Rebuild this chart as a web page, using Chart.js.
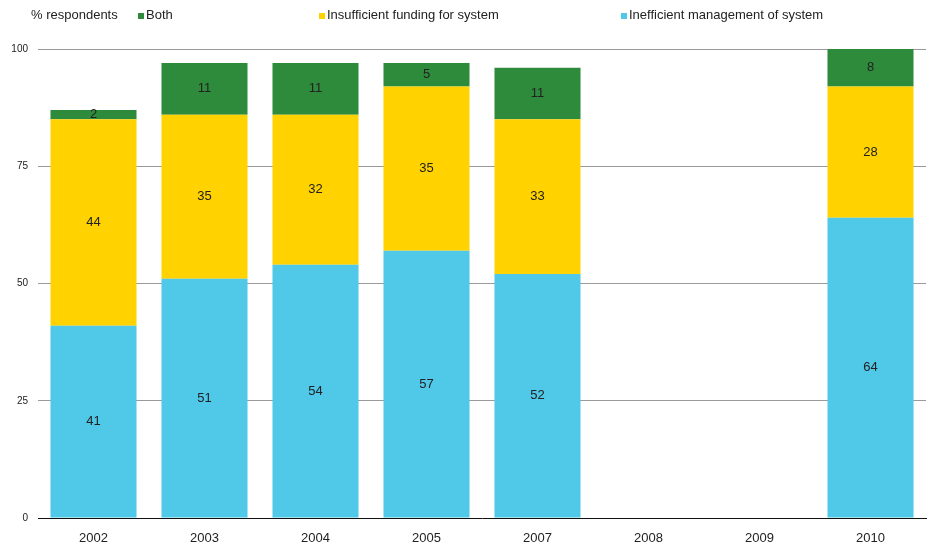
<!DOCTYPE html>
<html>
<head>
<meta charset="utf-8">
<script src="https://cdn.jsdelivr.net/npm/chart.js@4.4.0/dist/chart.umd.min.js"></script>
<style>
    html, body { margin: 0; padding: 0; background: #fff; }
    #wrap { position: relative; width: 932px; height: 548px; font-family: "Liberation Sans", Arial, sans-serif; color: #222; }
    #chart { position: absolute; left: 0; top: 0; }
    .lg { position: absolute; top: 7px; font-size: 13px; line-height: 16px; white-space: nowrap; }
    .lg i { display: inline-block; width: 6px; height: 6px; margin-right: 2px; vertical-align: 0px; }
</style>
</head>
<body>
<div id="wrap">
    <canvas id="chart" width="932" height="548"></canvas>
    <div class="lg" style="left:31px">% respondents</div>
</div>
<script>
// data
const years = ['2002', '2003', '2004', '2005', '2007', '2008', '2009', '2010'];
const inefficientMgmt = [41, 51, 54, 57, 52, null, null, 64];
const insufficientFunding = [44, 35, 32, 35, 33, null, null, 28];
const both = [2, 11, 11, 5, 11, null, null, 8];
const yTicks = [0, 25, 50, 75, 100];

const series = [
    { label: 'Inefficient management of system', data: inefficientMgmt, color: '#50C8E8', legendX: 621 },
    { label: 'Insufficient funding for system', data: insufficientFunding, color: '#FFD200', legendX: 319 },
    { label: 'Both', data: both, color: '#2E8B3C', legendX: 138 }
];

// legend, html
const wrap = document.getElementById('wrap');
series.forEach(function (s) {
    const d = document.createElement('div');
    d.className = 'lg';
    d.style.left = s.legendX + 'px';
    d.innerHTML = '<i style="background:' + s.color + '"></i>' + s.label;
    wrap.appendChild(d);
});

// numbers in the middle of each segment
const barLabels = {
    id: 'barLabels',
    afterDatasetsDraw(chart) {
        const ctx = chart.ctx;
        ctx.save();
        ctx.font = '13px "Liberation Sans", Arial, sans-serif';
        ctx.fillStyle = '#222';
        ctx.textAlign = 'center';
        ctx.textBaseline = 'middle';
        chart.data.datasets.forEach(function (ds, i) {
            chart.getDatasetMeta(i).data.forEach(function (bar, j) {
                const v = ds.data[j];
                if (v == null) return;
                ctx.fillText(String(v), bar.x, (bar.y + bar.base) / 2);
            });
        });
        ctx.restore();
    }
};

new Chart(document.getElementById('chart'), {
    type: 'bar',
    data: {
        labels: years,
        datasets: series.map(function (s) {
            return {
                label: s.label,
                data: s.data,
                backgroundColor: s.color,
                borderWidth: 0,
                categoryPercentage: 1,
                barPercentage: 0.775
            };
        })
    },
    options: {
        responsive: false,
        animation: false,
        layout: { padding: { top: 49, right: 6, left: 0, bottom: 0 } },
        plugins: {
            legend: { display: false },
            tooltip: { enabled: false }
        },
        scales: {
            x: {
                stacked: true,
                grid: { display: false, drawTicks: false, tickLength: 0 },
                border: { display: true, color: '#111', width: 1 },
                ticks: {
                    color: '#222',
                    font: { size: 13, family: '"Liberation Sans", Arial, sans-serif' },
                    padding: 13
                },
                afterFit: function (scale) { scale.height = 30; }
            },
            y: {
                stacked: true,
                min: 0,
                max: 100,
                afterBuildTicks: function (scale) {
                    scale.ticks = yTicks.map(function (v) { return { value: v }; });
                },
                grid: {
                    color: function (c) { return c.tick && c.tick.value === 0 ? 'rgba(0,0,0,0)' : '#9a9a9a'; },
                    lineWidth: 1,
                    drawTicks: false
                },
                border: { display: false },
                ticks: {
                    color: '#222',
                    font: { size: 10, family: '"Liberation Sans", Arial, sans-serif' },
                    padding: 10
                },
                afterFit: function (scale) { scale.width = 38; }
            }
        }
    },
    plugins: [barLabels]
});
</script>
</body>
</html>
